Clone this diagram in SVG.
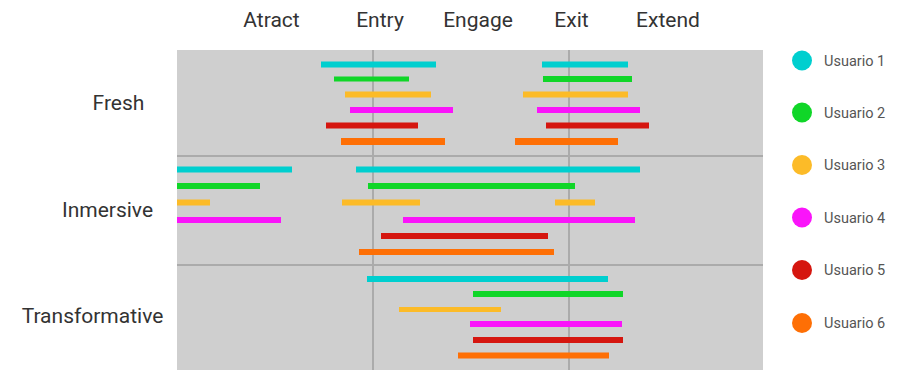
<svg xmlns="http://www.w3.org/2000/svg" width="898" height="370" viewBox="0 0 898 370">
<style>
.hdr{font-family:Roboto,"Liberation Sans",sans-serif;font-size:21px;fill:#333;text-anchor:middle}
.row{font-family:Roboto,"Liberation Sans",sans-serif;font-size:21px;fill:#333;text-anchor:middle}
.leg{font-family:Roboto,"Liberation Sans",sans-serif;font-size:14.5px;fill:#555}
.grid{stroke:#ababab;stroke-width:2;fill:none}
.u1{fill:#00cfcf}.u2{fill:#10d628}.u3{fill:#fcbb28}.u4{fill:#fa14fa}.u5{fill:#d5160f}.u6{fill:#fe6f05}
</style>
<rect width="898" height="370" fill="#fff"/>
<g id="panel">
<rect x="177" y="50" width="586" height="320" fill="#cfcfcf"/>
<line class="grid" x1="373" y1="50" x2="373" y2="370"/>
<line class="grid" x1="569" y1="50" x2="569" y2="370"/>
<line class="grid" x1="177" y1="156" x2="763" y2="156"/>
<line class="grid" x1="177" y1="265" x2="763" y2="265"/>
</g>
<g id="headers">
<text class="hdr" x="271.5" y="27">Atract</text>
<text class="hdr" x="380" y="27">Entry</text>
<text class="hdr" x="478" y="27">Engage</text>
<text class="hdr" x="571.5" y="27">Exit</text>
<text class="hdr" x="668" y="27">Extend</text>
</g>
<g id="rows">
<text class="row" x="118.5" y="110">Fresh</text>
<text class="row" x="107.5" y="217">Inmersive</text>
<text class="row" x="92.5" y="323">Transformative</text>
</g>
<g id="bars-fresh">
<rect class="u1" x="321" y="61.5" width="115" height="6"/><rect class="u1" x="542" y="61.5" width="86" height="6"/>
<rect class="u2" x="334" y="76.5" width="75" height="5"/><rect class="u2" x="543" y="76" width="89" height="6"/>
<rect class="u3" x="345" y="91.5" width="86" height="6"/><rect class="u3" x="523" y="91.5" width="105" height="6"/>
<rect class="u4" x="350" y="107" width="103" height="6"/><rect class="u4" x="537" y="107" width="103" height="6"/>
<rect class="u5" x="326" y="122.5" width="92" height="6"/><rect class="u5" x="546" y="122.5" width="103" height="6"/>
<rect class="u6" x="341" y="138" width="104" height="7"/><rect class="u6" x="515" y="138" width="103" height="7"/>
</g>
<g id="bars-inmersive">
<rect class="u1" x="177" y="166.5" width="115" height="6"/><rect class="u1" x="356" y="166.5" width="284" height="6"/>
<rect class="u2" x="177" y="183" width="83" height="6"/><rect class="u2" x="368" y="183" width="207" height="6"/>
<rect class="u3" x="177" y="199.5" width="33" height="6"/><rect class="u3" x="342" y="199.5" width="78" height="6"/><rect class="u3" x="555" y="199.5" width="40" height="6"/>
<rect class="u4" x="177" y="217" width="104" height="6"/><rect class="u4" x="403" y="217" width="232" height="6"/>
<rect class="u5" x="381" y="233" width="167" height="6"/>
<rect class="u6" x="359" y="249" width="195" height="6"/>
</g>
<g id="bars-transformative">
<rect class="u1" x="367" y="276" width="241" height="6"/>
<rect class="u2" x="473" y="291" width="150" height="6"/>
<rect class="u3" x="399" y="307" width="102" height="5"/>
<rect class="u4" x="470" y="321" width="152" height="6"/>
<rect class="u5" x="473" y="337" width="150" height="6"/>
<rect class="u6" x="458" y="352.5" width="151" height="6"/>
</g>
<g id="legend">
<circle class="u1" cx="802" cy="60.5" r="10"/><text class="leg" x="824" y="65.5">Usuario 1</text>
<circle class="u2" cx="802" cy="112.5" r="10"/><text class="leg" x="824" y="117.5">Usuario 2</text>
<circle class="u3" cx="802" cy="165" r="10"/><text class="leg" x="824" y="170">Usuario 3</text>
<circle class="u4" cx="802" cy="217.5" r="10"/><text class="leg" x="824" y="222.5">Usuario 4</text>
<circle class="u5" cx="802" cy="270" r="10"/><text class="leg" x="824" y="275">Usuario 5</text>
<circle class="u6" cx="802" cy="323" r="10"/><text class="leg" x="824" y="328">Usuario 6</text>
</g>
</svg>
